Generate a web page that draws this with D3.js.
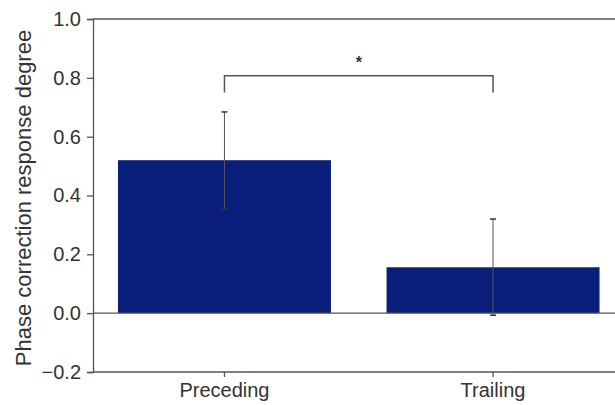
<!DOCTYPE html>
<html>
<head>
<meta charset="utf-8">
<style>
  body { margin: 0; background: #fff; }
  text { font-family: "Liberation Sans", Arial, sans-serif; fill: #333; }
</style>
</head>
<body>
<svg width="615" height="405"></svg>
<script src="https://d3js.org/d3.v7.min.js"></script>
<script>

// bar chart with error bars: phase correction response degree

var categories = ["Preceding", "Trailing"];
var means = [0.52, 0.156];
var errUpper = [0.684, 0.32];
var errLower = [0.354, -0.007];
var yTicks = [-0.2, 0.0, 0.2, 0.4, 0.6, 0.8, 1.0];

var svg = d3.select("svg"),
    plotLeft = 93, plotRight = 615, plotTop = 19, plotBottom = 372;

var x = d3.scaleBand()
    .domain(categories)
    .range([plotLeft, 624.5])
    .paddingInner(0.207)
    .paddingOuter(0.093);

var y = d3.scaleLinear()
    .domain([-0.2, 1.0])
    .range([plotBottom, plotTop]);

var axisColor = "#555";

// bars
svg.selectAll("rect.bar")
    .data(categories)
  .enter().append("rect")
    .attr("class", "bar")
    .attr("x", function(d) { return x(d); })
    .attr("width", x.bandwidth())
    .attr("y", function(d, i) { return y(means[i]); })
    .attr("height", function(d, i) { return y(0) - y(means[i]); })
    .attr("fill", "#0a1f7c");

// frame lines: top at 1.0, zero line, bottom axis
[1.0, 0.0, -0.2].forEach(function(v) {
  svg.append("line")
      .attr("x1", plotLeft).attr("x2", plotRight)
      .attr("y1", y(v)).attr("y2", y(v))
      .attr("stroke", axisColor)
      .attr("stroke-width", 1.3);
});

// y axis
var yAxis = svg.append("g")
    .attr("transform", "translate(" + plotLeft + ",0)")
    .call(d3.axisLeft(y).tickValues(yTicks).tickSize(6).tickPadding(6)
      .tickFormat(d3.format(".1f")));
yAxis.select(".domain").attr("stroke", axisColor).attr("stroke-width", 1.3);
yAxis.selectAll(".tick line").attr("stroke", axisColor).attr("stroke-width", 1.3);
yAxis.selectAll(".tick text")
    .style("font-size", "20px")
    .text(function(d) { return d < 0 ? "\u22120.2" : d3.format(".1f")(d); });

// x axis
var xAxis = svg.append("g")
    .attr("transform", "translate(0," + plotBottom + ")")
    .call(d3.axisBottom(x).tickSize(5).tickPadding(6));
xAxis.select(".domain").remove();
xAxis.selectAll(".tick line").attr("stroke", axisColor).attr("stroke-width", 1.3);
xAxis.selectAll(".tick text").style("font-size", "20px");

// error bars
var cx = function(d) { return x(d) + x.bandwidth() / 2; };
svg.selectAll("line.err")
    .data(categories)
  .enter().append("line")
    .attr("class", "err")
    .attr("x1", cx).attr("x2", cx)
    .attr("y1", function(d, i) { return y(errUpper[i]); })
    .attr("y2", function(d, i) { return y(errLower[i]); })
    .attr("stroke", "#555")
    .attr("stroke-width", 1);
[errUpper, errLower].forEach(function(arr) {
  svg.selectAll(null)
      .data(categories)
    .enter().append("line")
      .attr("x1", function(d) { return cx(d) - 3; })
      .attr("x2", function(d) { return cx(d) + 3; })
      .attr("y1", function(d, i) { return y(arr[i]); })
      .attr("y2", function(d, i) { return y(arr[i]); })
      .attr("stroke", "#333")
      .attr("stroke-width", 1.5);
});

// significance bracket
var bY = y(0.807), bDrop = y(0.75);
svg.append("path")
    .attr("d", "M" + cx(categories[0]) + "," + bDrop + "V" + bY +
               "H" + cx(categories[1]) + "V" + bDrop)
    .attr("fill", "none")
    .attr("stroke", "#555")
    .attr("stroke-width", 1.5);
svg.append("text")
    .attr("x", (cx(categories[0]) + cx(categories[1])) / 2)
    .attr("y", bY - 8)
    .attr("text-anchor", "middle")
    .style("font-size", "16px")
    .style("font-weight", "bold")
    .text("*");

// y label
svg.append("text")
    .attr("transform", "translate(31,198) rotate(-90)")
    .attr("text-anchor", "middle")
    .style("font-size", "22px")
    .text("Phase correction response degree");

</script>
</body>
</html>
